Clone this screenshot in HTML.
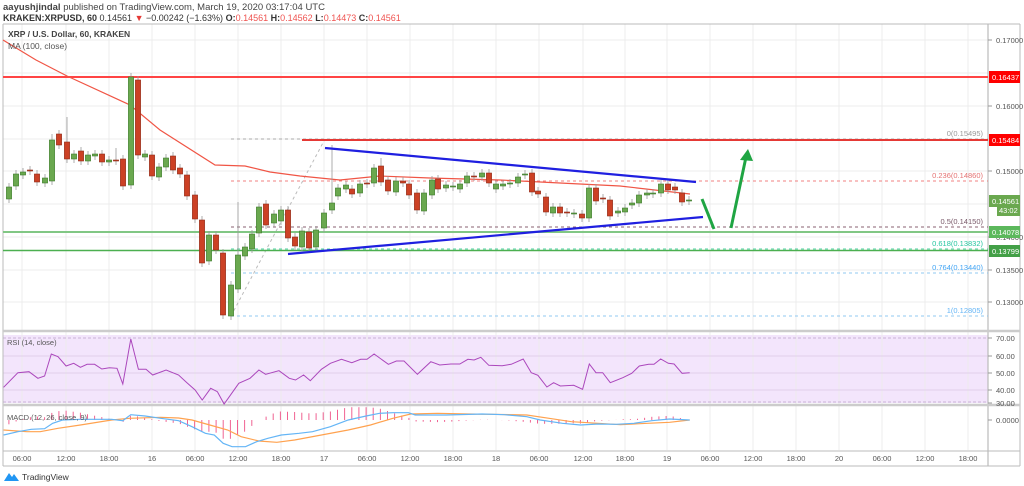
<!DOCTYPE html>
<html><head><meta charset="utf-8"><style>
body{margin:0;background:#fff;width:1024px;height:486px;overflow:hidden;font-family:"Liberation Sans",sans-serif}
svg{position:absolute;left:0;top:0}
</style></head><body>
<svg id="s" width="1024" height="486" xmlns="http://www.w3.org/2000/svg" font-family="Liberation Sans, sans-serif">
<text x="3" y="10" font-size="9.5" fill="#444"><tspan font-weight="bold">aayushjindal</tspan> published on TradingView.com, March 19, 2020 03:17:04 UTC</text>
<text x="3" y="21" font-size="9" fill="#333"><tspan font-weight="bold">KRAKEN:XRPUSD, 60</tspan> 0.14561 <tspan fill="#e53935">▼</tspan> −0.00242 (−1.63%) <tspan font-weight="bold">O:</tspan><tspan fill="#ef5350">0.14561</tspan> <tspan font-weight="bold">H:</tspan><tspan fill="#ef5350">0.14562</tspan> <tspan font-weight="bold">L:</tspan><tspan fill="#ef5350">0.14473</tspan> <tspan font-weight="bold">C:</tspan><tspan fill="#ef5350">0.14561</tspan></text>
<g id="g"></g>
</svg>
<script>
const S=document.getElementById('g');let h='';
function L(x1,y1,x2,y2,c,w,d){h+=`<line x1="${x1}" y1="${y1}" x2="${x2}" y2="${y2}" stroke="${c}" stroke-width="${w||1}" ${d?'stroke-dasharray="'+d+'"':''}/>`;}
function T(x,y,t,c,sz,a,b){h+=`<text x="${x}" y="${y}" font-size="${sz||8}" fill="${c||'#555'}" ${a?'text-anchor="'+a+'"':''} ${b?'font-weight="bold"':''}>${t}</text>`;}
function R(x,y,w,hh,c,st){h+=`<rect x="${x}" y="${y}" width="${w}" height="${hh}" fill="${c}" ${st?'stroke="'+st+'" stroke-width="0.6"':''}/>`;}
function P(pts,c,w){h+='<polyline fill="none" stroke="'+c+'" stroke-width="'+(w||1)+'" points="'+pts.map(p=>p.join(',')).join(' ')+'"/>';}
// rsi band
R(3,335,985,68,'#f3e5fc');
// grid
const vx=[22,66,109,152,195,238,281,324,367,410,453,496,539,583,625,667,710,753,796,839,882,925,968];
vx.forEach(x=>L(x,24,x,450,'#ececec',1));
[40,73,106,139,171,204,237,270,302].forEach(y=>L(3,y,988,y,'#ececec',1));
[356,373,390].forEach(y=>L(3,y,988,y,'#e0d0ea',1));
L(3,338,988,338,'#c9b2d6',1,'3,2');L(3,402,988,402,'#c9b2d6',1,'3,2');
// borders
L(3,24,1020,24,'#bbb',1);L(3,24,3,466,'#bbb',1);L(1020,24,1020,466,'#bbb',1);L(3,466,1020,466,'#bbb',1);
L(988,24,988,466,'#bbb',1.2);L(3,331,1020,331,'#ccc',2.5);L(3,405,1020,405,'#ccc',2.5);L(3,451,1020,451,'#bbb',1);
// fib
L(231,139,988,139,'#aaa',1,'3,3');L(231,181,988,181,'#f08080',1,'3,3');L(231,227,988,227,'#8a6070',1,'3,3');
L(231,249,988,249,'#4dd0a0',1,'3,3');L(231,273,988,273,'#90c8f0',1,'3,3');L(231,316,988,316,'#90c8f0',1,'3,3');
L(231,316,325,139,'#bbb',1,'3,3');
T(983,136,'0(0.15495)','#999',7.5,'end');T(983,178,'0.236(0.14860)','#e57373',7.5,'end');T(983,224,'0.5(0.14150)','#7a5a6a',7.5,'end');
T(983,246,'0.618(0.13832)','#26c6a0',7.5,'end');T(983,270,'0.764(0.13440)','#42a5f5',7.5,'end');T(983,313,'1(0.12805)','#64b5f6',7.5,'end');
L(3,232,988,232,'#81c784',2);L(3,250.5,988,250.5,'#4caf50',1.5);
L(3,77,988,77,'#f44',2);L(302,140,988,140,'#e53935',2);
// MA
P([[3,40],[36,60],[67,76],[130,105],[160,130],[215,165],[245,166],[270,172],[300,176],[340,180],[380,176],[430,178],[500,180],[560,183],[620,186],[690,194]],'#f05545',1.2);
// candles
const C=[[9,187,199,'g'],[16,174,186,'g'],[23,172,175,'g'],[30,170,171,'r'],[37,174,182,'r'],[45,178,183,'g'],[52,140,181,'g',134],[59,134,145,'r'],[67,142,159,'r',117],[74,154,159,'g'],[81,151,161,'r'],[88,155,161,'g'],[95,154,156,'g'],[102,154,162,'r'],[109,160,162,'g'],[116,160,161,'r',148],[123,159,186,'r'],[131,77,185,'g'],[138,80,155,'r'],[145,154,157,'g'],[152,155,176,'r'],[159,167,177,'g'],[166,158,167,'g'],[173,156,170,'r'],[180,168,174,'r'],[187,175,196,'r'],[195,195,219,'r'],[202,220,263,'r'],[209,235,261,'g'],[216,235,250,'r'],[223,253,315,'r'],[231,285,316,'g'],[238,255,289,'g',202],[245,247,256,'g'],[252,234,249,'g'],[259,207,233,'g'],[266,204,225,'r'],[274,214,223,'g'],[281,210,221,'g'],[288,210,238,'r'],[295,237,246,'r'],[302,231,247,'g'],[309,232,248,'r'],[316,230,247,'g'],
[324,213,228,'g'],[332,203,210,'g',145],[338,188,196,'g'],[346,185,189,'g'],[352,189,194,'r'],[360,184,193,'g'],[367,183,184,'r'],[374,168,183,'g'],[381,166,182,'r',158],[388,180,191,'r'],[396,181,192,'g'],[403,181,183,'r'],[409,184,195,'r'],[417,193,210,'r'],[424,193,211,'g'],[432,180,195,'g'],[438,179,189,'r'],[446,185,188,'g'],[453,186,187,'g'],[460,184,189,'g'],[467,176,183,'g'],[474,176,177,'r'],[482,173,177,'g'],[489,173,183,'r'],[496,184,189,'g'],[503,184,186,'g'],[510,183,184,'g'],[518,177,183,'g'],[525,174,175,'g'],[532,173,192,'r'],[538,191,194,'r'],[546,197,212,'r'],[553,207,213,'g'],[560,207,213,'r'],[567,212,213,'r'],[574,213,214,'g'],[582,214,218,'r'],[589,188,218,'g'],[596,188,201,'r'],[603,198,199,'r'],[610,200,216,'r'],[618,211,213,'g'],[625,208,212,'g'],[632,203,205,'g'],[639,195,203,'g'],[647,193,195,'g'],[653,193,194,'g'],[661,184,193,'g'],[668,184,190,'r'],[675,187,190,'r'],[682,193,202,'r'],[689,200,201,'g']];
C.forEach(c=>{const[x,t,b,k,hi]=c;const col=k=='g'?'#6aa84f':'#cc4125';const st=k=='g'?'#3d7a2a':'#8e2a18';
L(x,hi||t-4,x,b+4,'#999',0.8);R(x-2.6,t,5.2,Math.max(b-t,1),col,st);});
// trendlines
L(325,148,696,182,'#1f1fe0',2.2);L(288,254,703,217,'#1f1fe0',2.2);
// arrows
L(702,199,714,229,'#1fa543',3);L(731,228,746,157,'#1fa543',3);
h+='<polygon points="748,149 740,160 753,161" fill="#1fa543"/>';
// RSI
const rs=[[8,172],[40,128],[65,125],[85,145],[100,138],[115,72],[130,80],[148,108],[165,100],[180,112],[195,103],[212,103],[228,117],[245,113],[262,115],[275,162],[293,27],[310,118],[327,118],[342,135],[372,120],[400,135],[420,160],[437,180],[453,210],[472,175],[487,185],[502,222],[535,160],[560,145],[580,120],[595,133],[625,122],[648,145],[662,150],[680,135],[695,152],[720,118],[740,100],[765,88],[788,98],[808,88],[822,88],[838,72],[870,103],[888,93],[905,93],[935,133],[965,95],[985,105],[1010,102],[1030,102],[1048,88],[1062,90],[1077,82],[1095,106],[1125,107],[1145,103],[1172,87],[1190,128],[1205,136],[1225,171],[1240,158],[1255,168],[1285,166],[1305,178],[1320,102],[1335,128],[1350,128],[1367,158],[1395,143],[1415,130],[1432,108],[1453,103],[1465,103],[1480,87],[1497,100],[1510,102],[1528,130],[1545,128]];
P(rs.map(p=>[(p[0]/2.24).toFixed(1),(330+p[1]/3).toFixed(1)]),'#ab47bc',1);
// MACD
const bl=[[8,315],[40,305],[70,298],[100,296],[118,280],[140,270],[180,268],[250,268],[275,272],[293,254],[325,258],[360,265],[400,272],[430,290],[460,310],[480,315],[500,340],[520,350],[550,350],[575,335],[600,325],[630,315],[670,310],[700,305],[740,290],[780,270],[820,258],[850,250],[880,248],[915,248],[930,255],[1000,255],[1080,252],[1130,254],[1180,260],[1210,270],[1260,280],[1300,285],[1340,282],[1380,283],[1420,280],[1460,272],[1500,267],[1545,270]];
const or=[[8,300],[60,305],[90,305],[130,295],[180,285],[250,270],[290,265],[360,262],[400,264],[430,270],[470,285],[510,300],[540,320],[580,333],[620,337],[660,330],[720,315],[780,300],[830,285],[880,265],[920,252],[980,250],[1050,252],[1100,253],[1180,255],[1230,265],[1280,275],[1340,280],[1390,284],[1450,280],[1500,277],[1545,270]];
function ip(a,x){for(let i=0;i<a.length-1;i++){if(x>=a[i][0]&&x<=a[i+1][0]){const f=(x-a[i][0])/(a[i+1][0]-a[i][0]);return a[i][1]+f*(a[i+1][1]-a[i][1]);}}return a[a.length-1][1];}
for(let zx=20;zx<1545;zx+=16){const d=ip(or,zx)-ip(bl,zx);const x=zx/2.24;const y0=420;const y1=y0-d*0.8/3*1.6;L(x.toFixed(1),y0,x.toFixed(1),y1.toFixed(1),'#f06292',1);}
P(or.map(p=>[(p[0]/2.24).toFixed(1),(330+p[1]/3).toFixed(1)]),'#ffa24f',1.2);
P(bl.map(p=>[(p[0]/2.24).toFixed(1),(330+p[1]/3).toFixed(1)]),'#64b5f6',1.2);
// labels in panes
T(8,37,'XRP / U.S. Dollar, 60, KRAKEN','#444',8.5,null,true);T(8,49,'MA (100, close)','#555',8.5);
T(7,345,'RSI (14, close)','#555',7.5);T(7,420,'MACD (12, 26, close, 9)','#555',7.5);
// price axis
[[40,'0.17000'],[106,'0.16000'],[171,'0.15000'],[237,'0.14000'],[270,'0.13500'],[302,'0.13000']].forEach(a=>{L(988,a[0],992,a[0],'#999');T(996,a[0]+3,a[1],'#555',7.5);});
[[338,'70.00'],[356,'60.00'],[373,'50.00'],[390,'40.00'],[403,'30.00'],[420,'0.0000']].forEach(a=>{L(988,a[0],992,a[0],'#999');T(996,a[0]+3,a[1],'#555',7.5);});
function tag(y,t,c){R(989,y-6,31,12,c);T(992,y+3,t,'#fff',7.5);}
tag(77,'0.16437','#f00');tag(140,'0.15484','#f00');tag(201,'0.14561','#6aa84f');R(997,205,23,11,'#6aa84f');T(999,213,'43:02','#fff',7.5);
tag(232,'0.14078','#5cb85c');tag(251,'0.13799','#43a047');
// time axis
const tl=['06:00','12:00','18:00','16','06:00','12:00','18:00','17','06:00','12:00','18:00','18','06:00','12:00','18:00','19','06:00','12:00','18:00','20','06:00','12:00','18:00'];
vx.forEach((x,i)=>T(x,461,tl[i],'#555',7.5,'middle'));
// logo
h+='<path d="M4,481 l5,-8 l3,4 l2,-3 l5,7 z" fill="#2196f3"/>';
T(22,480,'TradingView','#333',8.5);
S.innerHTML=h;
</script>
</body></html>
